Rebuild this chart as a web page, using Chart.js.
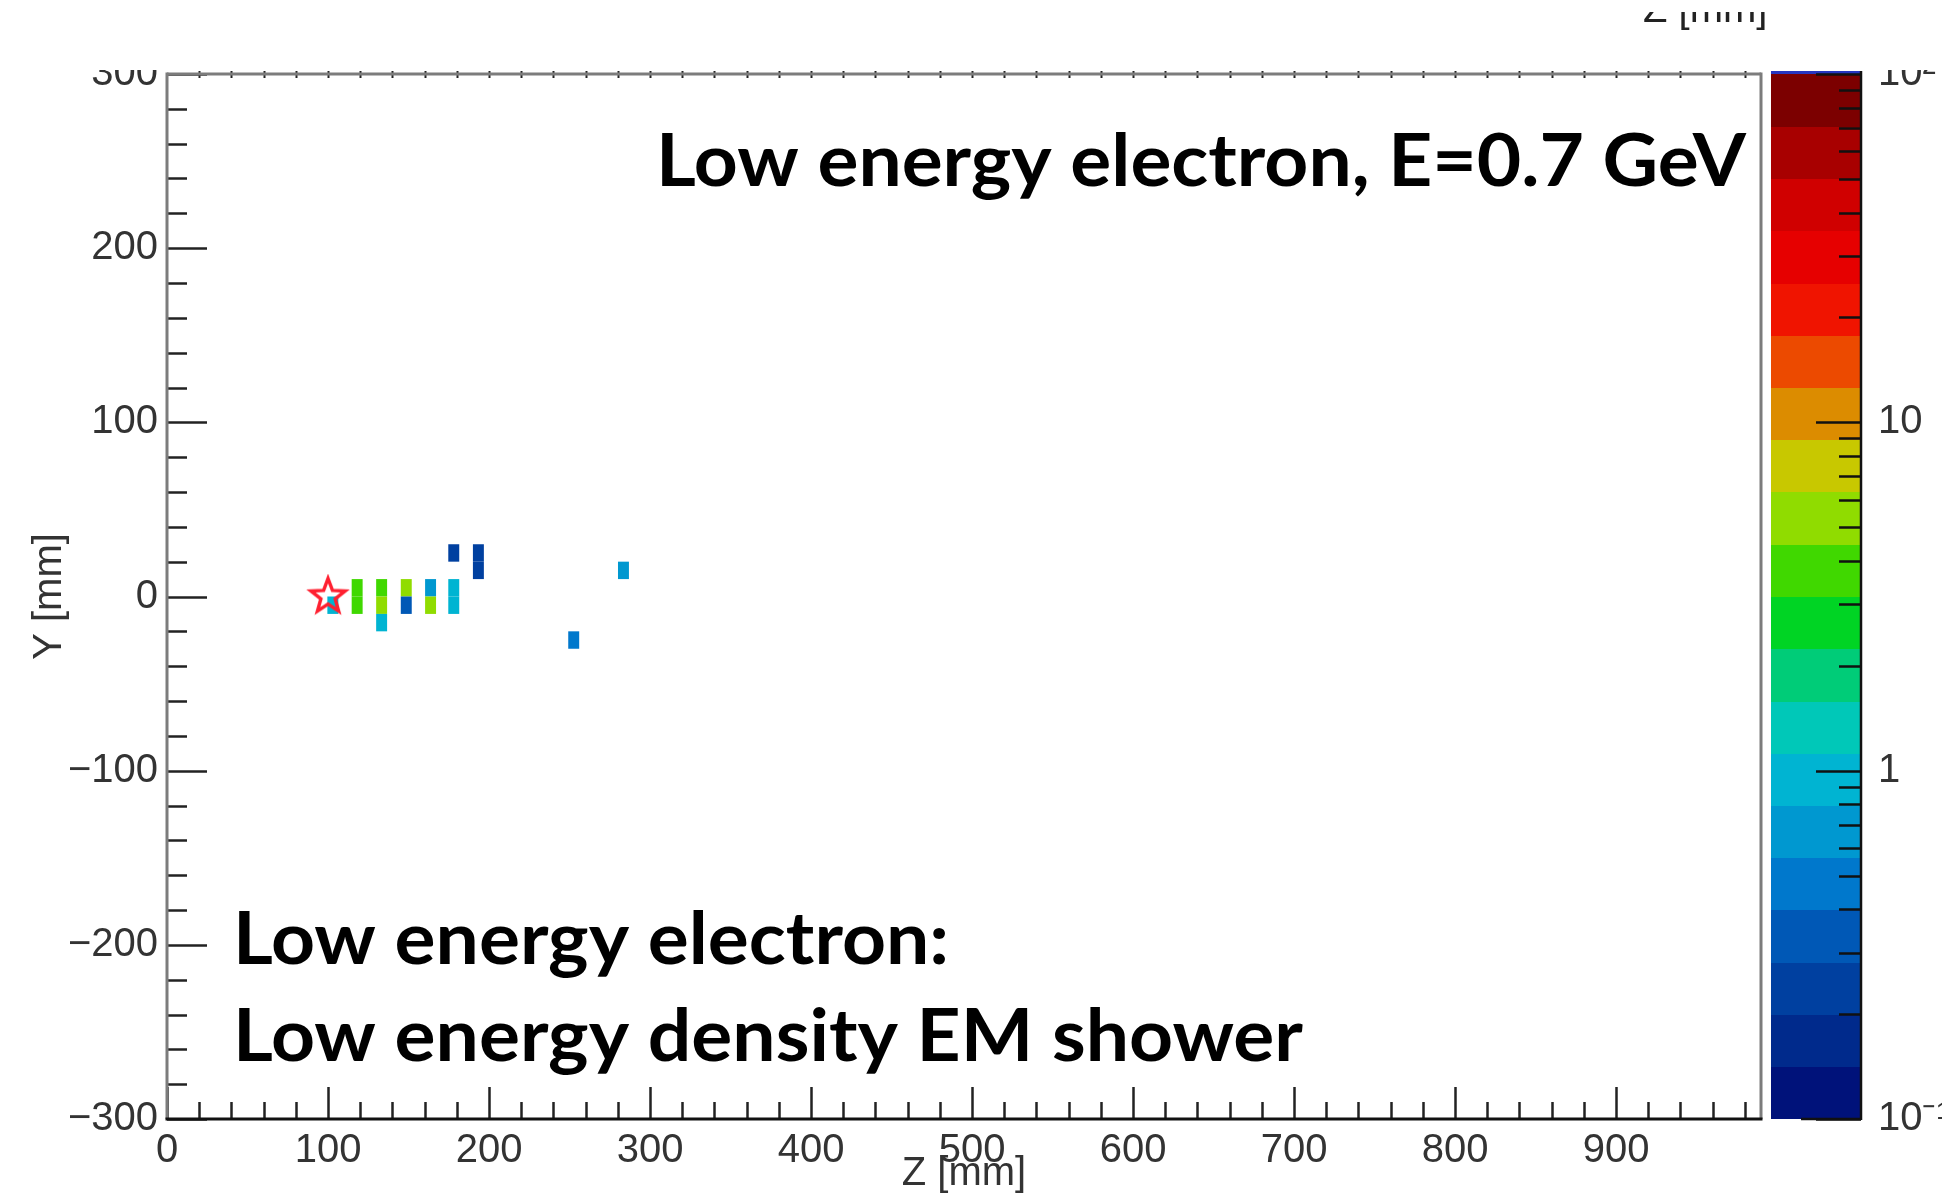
<!DOCTYPE html>
<html><head><meta charset="utf-8">
<script src="https://cdn.jsdelivr.net/npm/chart.js@4.4.1/dist/chart.umd.min.js"></script>
<style>html,body{margin:0;padding:0;background:#fff;overflow:hidden}canvas{display:block}</style>
</head><body>
<canvas id="c" width="1942" height="1199"></canvas>
<script>
// ---------------- data ----------------
const zTickValues = [0, 100, 200, 300, 400, 500, 600, 700, 800, 900];
const zTickLabels = ['0', '100', '200', '300', '400', '500', '600', '700', '800', '900'];
const yTickValues = [-300, -200, -100, 0, 100, 200, 300];
const yTickLabels = ['\u2212300', '\u2212200', '\u2212100', '0', '100', '200', '300'];
const colorTickValues = [0.1, 1, 10, 100];
const colorTickLabels = ['10\u207B\u00B9', '1', '10', '10\u00B2'];

// shower cells: centre Z [mm], centre Y [mm], energy [MeV]
const cellZ = [103.0, 118.1, 118.1, 133.3, 133.3, 133.3, 148.6, 148.6, 163.7, 163.7, 178.1, 178.1, 178.1, 193.4, 193.4, 252.6, 283.5];
const cellY = [-5, 5, -5, 5, -5, -15, 5, -5, 5, -5, 5, -5, 25, 25, 15, -25, 15];
const cellE = [0.95, 3.5, 3.5, 3.5, 5.3, 0.95, 5.3, 0.33, 0.67, 5.3, 0.95, 0.95, 0.22, 0.2, 0.2, 0.47, 0.67];
const cellSizeZ = 6.8;
const cellSizeY = 10;

// interaction vertex (star marker)
const vertexZ = [100];
const vertexY = [0];

const zRange = [0, 990];
const yRange = [-300, 300];
const eRange = [0.1, 100];

// colour palette, bottom (low) to top (high), 20 contours
const paletteColors = ['#00127a', '#002a8c', '#0040a0', '#0058b6', '#0078cc', '#0098d0', '#00b4d2', '#00c8b8',
  '#00cc78', '#00d424', '#40d800', '#90dc00', '#c8c800', '#dc8c00', '#ec4a00', '#f01400', '#e60000', '#d00000', '#a80000', '#7c0000'];

const titleTop = 'Low energy electron, E=0.7 GeV';
const noteLines = ['Low energy electron:', 'Low energy density EM shower'];

// ---------------- helpers ----------------
const nBands = paletteColors.length;
const lMin = Math.log10(eRange[0]), lMax = Math.log10(eRange[1]);
function colorFor(v) {
  let i = Math.floor((Math.log10(v) - lMin) / (lMax - lMin) * nBands);
  i = Math.max(0, Math.min(nBands - 1, i));
  return paletteColors[i];
}

function makeStar() {
  const c = document.createElement('canvas');
  c.width = 46; c.height = 46;
  const g = c.getContext('2d');
  const R = 18, r = 7.5, cx = 23, cy = 23;
  g.beginPath();
  for (let k = 0; k < 10; k++) {
    const a = -Math.PI / 2 + k * Math.PI / 5;
    const rr = (k % 2 === 0) ? R : r;
    const px = cx + rr * Math.cos(a), py = cy + rr * Math.sin(a);
    if (k === 0) g.moveTo(px, py); else g.lineTo(px, py);
  }
  g.closePath();
  g.strokeStyle = '#ff2030';
  g.lineWidth = 3.4;
  g.lineJoin = 'miter';
  g.stroke();
  return c;
}

const tickFont = { family: '"Liberation Sans", Arial, Helvetica, sans-serif', size: 40 };
const labelColor = '#333';

// cells plugin: rectangles placed through the chart scales
const cellsPlugin = {
  id: 'cells',
  beforeDatasetsDraw(chart) {
    const { ctx, scales: { x, y } } = chart;
    ctx.save();
    for (let i = 0; i < cellZ.length; i++) {
      const x0 = x.getPixelForValue(cellZ[i] - cellSizeZ / 2);
      const x1 = x.getPixelForValue(cellZ[i] + cellSizeZ / 2);
      const y0 = y.getPixelForValue(cellY[i] + cellSizeY / 2);
      const y1 = y.getPixelForValue(cellY[i] - cellSizeY / 2);
      ctx.fillStyle = colorFor(cellE[i]);
      ctx.fillRect(x0, y0, x1 - x0, y1 - y0);
    }
    ctx.restore();
  }
};

function line(ctx, x0, y0, x1, y1) { ctx.beginPath(); ctx.moveTo(x0, y0); ctx.lineTo(x1, y1); ctx.stroke(); }

const framePlugin = {
  id: 'frame',
  afterDraw(chart) {
    const { ctx, chartArea: a, scales: { x, y, c } } = chart;
    ctx.save();
    // ticks on Y (inward)
    ctx.strokeStyle = '#222'; ctx.lineWidth = 2.5;
    for (let v = yRange[0]; v <= yRange[1]; v += 20) {
      const py = Math.round(y.getPixelForValue(v)) + 0.5;
      const len = (v % 100 === 0) ? 40 : 20;
      line(ctx, a.left, py, a.left + len, py);
    }
    // ticks on bottom X (inward)
    for (let v = zRange[0]; v < zRange[1]; v += 20) {
      const px = Math.round(x.getPixelForValue(v)) + 0.5;
      const len = (v % 100 === 0) ? 32 : 17;
      line(ctx, px, a.bottom, px, a.bottom - len);
    }
    // small ticks on top
    ctx.lineWidth = 2;
    for (let v = zRange[0] + 20; v < zRange[1]; v += 20) {
      const px = Math.round(x.getPixelForValue(v)) + 0.5;
      line(ctx, px, a.top - 3, px, a.top + 4);
    }
    // frame
    ctx.lineWidth = 3;
    ctx.strokeStyle = '#7c7c7c';
    line(ctx, a.left, a.top, a.right, a.top);
    line(ctx, a.left, a.top - 1.5, a.left, a.bottom);
    line(ctx, a.right, a.top - 1.5, a.right, a.bottom);
    ctx.strokeStyle = '#111';
    line(ctx, a.left - 1.5, a.bottom, a.right + 1.5, a.bottom);

    // colour bar
    const bx0 = c.left + 10, bx1 = c.left + 100;
    for (let i = 0; i < nBands; i++) {
      const v0 = Math.pow(10, lMin + (lMax - lMin) * i / nBands);
      const v1 = Math.pow(10, lMin + (lMax - lMin) * (i + 1) / nBands);
      const p0 = c.getPixelForValue(v0), p1 = c.getPixelForValue(v1);
      ctx.fillStyle = paletteColors[i];
      ctx.fillRect(bx0, Math.floor(p1), bx1 - bx0, Math.ceil(p0) - Math.floor(p1));
    }
    ctx.fillStyle = '#2636c0';
    ctx.fillRect(bx0, c.getPixelForValue(eRange[1]) - 3, bx1 - bx0, 3);
    ctx.strokeStyle = '#111'; ctx.lineWidth = 2.5;
    line(ctx, bx1, c.top - 3, bx1, c.bottom + 1);
    line(ctx, bx0 + 30, c.bottom, bx1, c.bottom);
    for (let d = 0; d < colorTickValues.length; d++) {
      const v = colorTickValues[d];
      const py = Math.round(c.getPixelForValue(v)) + 0.5;
      line(ctx, bx1 - 45, py, bx1, py);
      if (d < colorTickValues.length - 1) {
        for (let m = 2; m <= 9; m++) {
          const pm = Math.round(c.getPixelForValue(v * m)) + 0.5;
          line(ctx, bx1 - 22, pm, bx1, pm);
        }
      }
    }

    // annotation texts
    ctx.fillStyle = '#000';
    ctx.textBaseline = 'alphabetic';
    const fit = (text, px, py, target, align, size) => {
      ctx.font = 'bold ' + size + 'px Lato, "Open Sans", sans-serif';
      const w = ctx.measureText(text).width;
      ctx.save();
      ctx.translate(px, py);
      ctx.scale(target / w, 1);
      ctx.textAlign = align;
      ctx.fillText(text, 0, 0);
      ctx.restore();
    };
    fit(titleTop, a.right - 15, a.top + 112, 1090, 'right', 72);
    ctx.font = 'bold 72px Lato, "Open Sans", sans-serif';
    const s2 = 1070 / ctx.measureText(noteLines[1]).width;
    const w1 = ctx.measureText(noteLines[0]).width * s2;
    fit(noteLines[0], a.left + 66, a.top + 890, w1, 'left', 72);
    fit(noteLines[1], a.left + 66, a.top + 987, 1070, 'left', 72);

    // partly visible title at the top edge
    ctx.font = '40px "Liberation Sans", Arial, sans-serif';
    ctx.fillStyle = '#222';
    ctx.textAlign = 'left';
    ctx.fillText('Z [mm]', 1643, 22);

    // cropped strips of the original figure
    ctx.fillStyle = '#fff';
    ctx.fillRect(0, 0, chart.width, 12);
    ctx.fillRect(0, 31, chart.width, a.top - 4 - 31);
    ctx.restore();
  }
};

function noPad(s) { s.paddingTop = 0; s.paddingBottom = 0; s.paddingLeft = 0; s.paddingRight = 0; }

const ctx = document.getElementById('c').getContext('2d');
new Chart(ctx, {
  type: 'scatter',
  data: {
    datasets: [{
      label: 'vertex',
      data: vertexZ.map((z, i) => ({ x: z, y: vertexY[i] })),
      pointStyle: makeStar(),
      pointRadius: 18,
      pointHoverRadius: 18
    }]
  },
  options: {
    responsive: false,
    animation: false,
    devicePixelRatio: 1,
    layout: { padding: { top: 74, left: 0, right: 0, bottom: 0 } },
    plugins: { legend: { display: false }, tooltip: { enabled: false } },
    scales: {
      x: {
        type: 'linear', position: 'bottom', min: zRange[0], max: zRange[1],
        afterBuildTicks: s => { s.ticks = zTickValues.map(v => ({ value: v })); },
        afterFit: s => { s.height = 80; noPad(s); },
        grid: { display: false, drawTicks: false },
        border: { display: false },
        ticks: { font: tickFont, color: labelColor, padding: 8, maxRotation: 0, autoSkip: false,
          callback: (v, i) => zTickLabels[i] },
        title: { display: true, text: 'Z [mm]', font: tickFont, color: labelColor, padding: { top: 0, bottom: 1 } }
      },
      y: {
        type: 'linear', position: 'left', min: yRange[0], max: yRange[1],
        afterBuildTicks: s => { s.ticks = yTickValues.map(v => ({ value: v })); },
        afterFit: s => { s.width = 167; noPad(s); },
        grid: { display: false, drawTicks: false },
        border: { display: false },
        ticks: { font: tickFont, color: labelColor, padding: 9, autoSkip: false,
          callback: (v, i) => yTickLabels[i] },
        title: { display: true, text: 'Y [mm]', font: tickFont, color: labelColor, padding: { top: 26, bottom: 0 } }
      },
      c: {
        type: 'logarithmic', position: 'right', min: eRange[0], max: eRange[1],
        afterBuildTicks: s => { s.ticks = colorTickValues.map(v => ({ value: v })); },
        afterFit: s => { s.width = 181; noPad(s); },
        grid: { display: false, drawTicks: false },
        border: { display: false },
        ticks: { font: tickFont, color: labelColor, padding: 117, autoSkip: false,
          callback: (v, i) => colorTickLabels[i] }
      }
    }
  },
  plugins: [cellsPlugin, framePlugin]
});
</script>
</body></html>
